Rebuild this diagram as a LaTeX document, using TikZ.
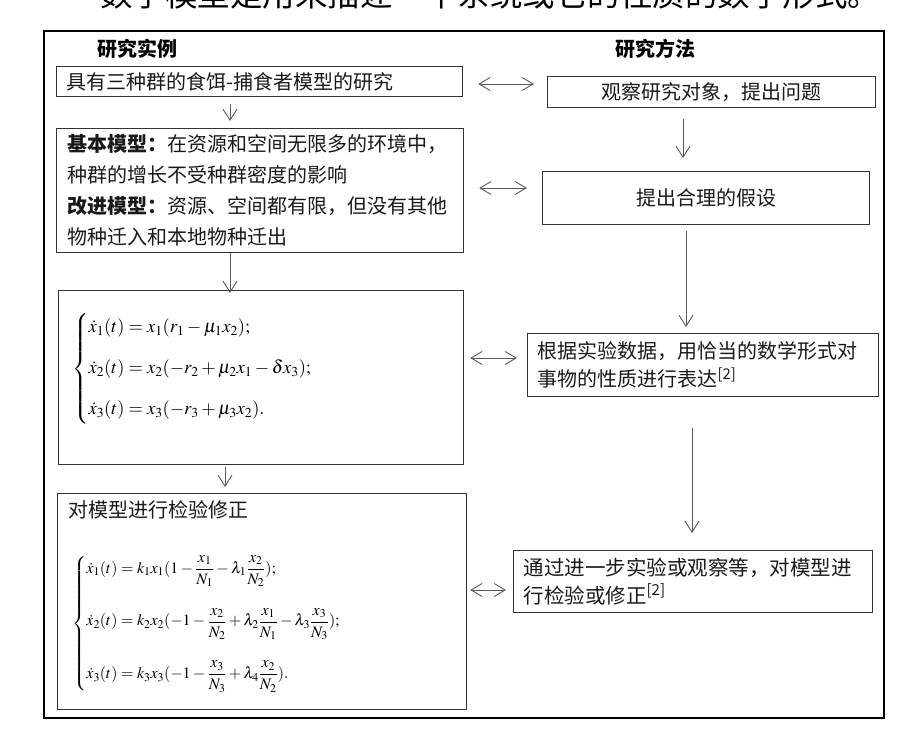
\documentclass[tikz,border=0pt]{standalone}
\usepackage{amsmath}
\usepackage{mathptmx}
\usepackage[no-math]{fontspec}
\setmainfont{Noto Sans CJK SC}
\usetikzlibrary{arrows.meta,calc}
\newcommand{\myfr}[2]{\dfrac{\rule[-3pt]{0pt}{3pt}#1}{\rule{0pt}{13pt}#2}}
\begin{document}
\begin{tikzpicture}[x=1pt,y=-1pt,
  txt/.style={font=\fontsize{20}{31}\selectfont, text=black!90},
  box/.style={draw=black!80, line width=1.2pt, anchor=north west, inner sep=0pt, txt},
  arr/.style={-{Straight Barb[length=11pt,width=14pt]}, draw=black!65, line width=0.9pt},
  darr/.style={{Straight Barb[length=11pt,width=13pt]}-{Straight Barb[length=11pt,width=13pt]}, draw=black!65, line width=0.9pt},
  hdr/.style={font=\fontsize{20}{24}\selectfont\bfseries, text=black, inner sep=0pt},
]
\useasboundingbox (0,0) rectangle (922,746);
% page text above (cut)
\node[anchor=base west, inner sep=0pt, font=\fontsize{32.5}{36}\selectfont] (top) at (100,7) {数学模型是用来描述一个系统或它的性质的数学形式。};
% outer frame
\draw[line width=1.8pt, black] (44,31) rectangle (884,718);
% headers
\node[hdr] (h1) at (137,49) {研究实例};
\node[hdr] (h2) at (655,49) {研究方法};
% left column
\node[box, minimum width=406pt, minimum height=30pt, align=left, text width=386pt, inner xsep=10pt] (a1) at (56,66) {具有三种群的食饵-捕食者模型的研究};
\node[box, minimum width=407pt, minimum height=124pt, align=left, text width=385pt, inner xsep=11pt] (a2) at (56,128) {{\bfseries 基本模型：}在资源和空间无限多的环境中，\\种群的增长不受种群密度的影响\\{\bfseries 改进模型：}资源、空间都有限，但没有其他\\物种迁入和本地物种迁出};
\node[box, minimum width=405pt, minimum height=174pt] (a3) at (58,290) {};
\node[anchor=west, inner sep=0pt, font=\fontsize{18.5}{24}\selectfont] (a3eq) at (72,369) {$\left\{\begin{array}{@{}l@{}}
\dot{x}_1(t)=x_1(r_1-\mu_1x_2);\\[17pt]
\dot{x}_2(t)=x_2(-r_2+\mu_2x_1-\delta x_3);\\[17pt]
\dot{x}_3(t)=x_3(-r_3+\mu_3x_2).
\end{array}\right.$};
\node[box, minimum width=409pt, minimum height=216pt] (a4) at (57,493) {};
\node[txt, anchor=west, inner sep=0pt] (a4t) at (68,510) {对模型进行检验修正};
\node[anchor=west, inner sep=0pt, font=\fontsize{16}{20}\selectfont] (a4eq) at (72,624) {$\left\{\begin{array}{@{}l@{}}
\dot{x}_1(t)=k_1x_1(1-\myfr{x_1}{N_1}-\lambda_1\myfr{x_2}{N_2});\\[29pt]
\dot{x}_2(t)=k_2x_2(-1-\myfr{x_2}{N_2}+\lambda_2\myfr{x_1}{N_1}-\lambda_3\myfr{x_3}{N_3});\\[29pt]
\dot{x}_3(t)=k_3x_3(-1-\myfr{x_3}{N_3}+\lambda_4\myfr{x_2}{N_2}).
\end{array}\right.$};
% right column
\node[box, minimum width=328pt, minimum height=31pt] (b1) at (547,76) {观察研究对象，提出问题};
\node[box, minimum width=327pt, minimum height=53pt] (b2) at (542,171) {提出合理的假设};
\node[box, minimum width=351pt, minimum height=63pt, align=left, text width=331pt, inner xsep=10pt, font=\fontsize{20}{28}\selectfont] (b3) at (527,333) {根据实验数据，用恰当的数学形式对\\事物的性质进行表达\textsuperscript{[2]}};
\node[box, minimum width=359pt, minimum height=62pt, align=left, text width=339pt, inner xsep=10pt, font=\fontsize{20.5}{28}\selectfont] (b4) at (513,550) {通过进一步实验或观察等，对模型进\\行检验或修正\textsuperscript{[2]}};
% vertical arrows
\draw[arr, shorten <=7pt, shorten >=7pt] ($(a1.south west)+(174,0)$) -- ($(a2.north west)+(174,0)$);
\draw[arr, shorten >=-3pt] ($(a2.south west)+(174,0)$) -- ($(a3.north west)+(172,0)$);
\draw[arr, shorten <=2pt, shorten >=6pt] ($(a3.south west)+(167,0)$) -- ($(a4.north west)+(168,0)$);
\draw[arr, shorten <=11pt, shorten >=13pt] ($(b1.south west)+(136,0)$) -- ($(b2.north west)+(141,0)$);
\draw[arr, shorten <=6pt, shorten >=6pt] ($(b2.south west)+(144,0)$) -- ($(b3.north west)+(159,0)$);
\draw[arr, shorten <=31pt, shorten >=17pt] ($(b3.south west)+(165,0)$) -- ($(b4.north west)+(179,0)$);
% double arrows
\draw[darr, shorten <=15pt, shorten >=13pt] ($(a1.north east)+(0,18)$) -- ($(b1.north west)+(0,8)$);
\draw[darr, shorten <=15pt, shorten >=15pt] ($(a2.north east)+(0,60)$) -- ($(b2.north west)+(0,17)$);
\draw[darr, shorten <=6pt, shorten >=10pt] ($(a3.north east)+(0,68)$) -- ($(b3.north west)+(0,25)$);
\draw[darr, shorten <=3pt, shorten >=7pt] ($(a4.north east)+(0,97)$) -- ($(b4.north west)+(0,40)$);
\end{tikzpicture}
\end{document}
